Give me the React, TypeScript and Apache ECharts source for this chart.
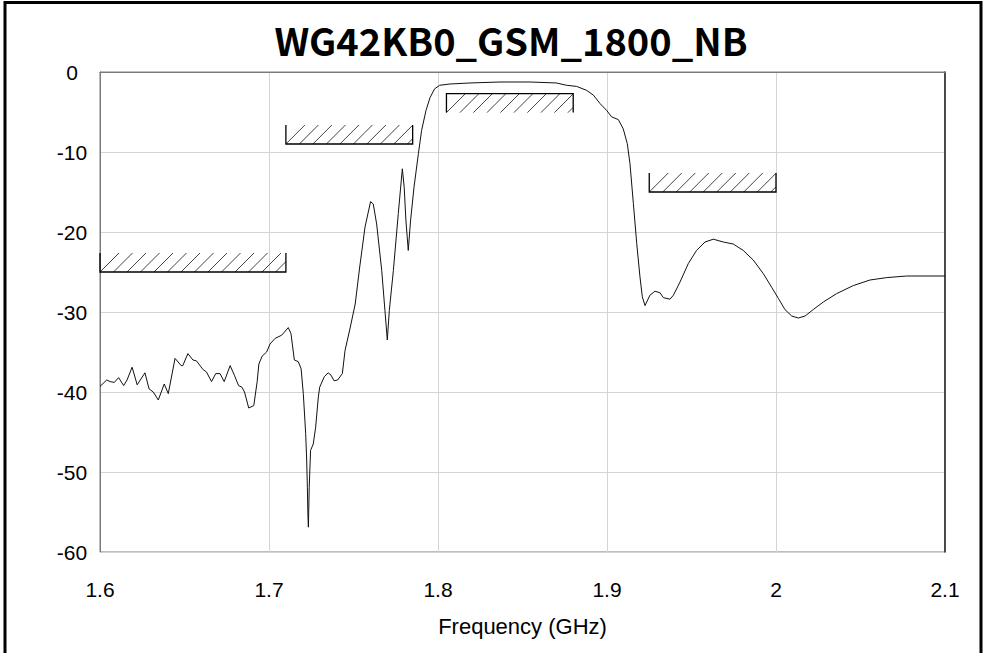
import React, { useEffect, useRef } from "react";
import * as echarts from "echarts";

// ---- Data ----
const freqGHz = [
  1.6, 1.604, 1.606, 1.6085, 1.611, 1.614, 1.616, 1.619, 1.622, 1.6266, 1.629, 1.6315, 1.6345, 1.638,
  1.6404, 1.6444, 1.648, 1.649, 1.652, 1.655, 1.657, 1.661, 1.663, 1.666, 1.6685, 1.671, 1.6735, 1.677,
  1.6795, 1.682, 1.684, 1.6855, 1.688, 1.691, 1.693, 1.694, 1.696, 1.6986, 1.7006, 1.7036, 1.7075,
  1.7114, 1.713, 1.715, 1.7173, 1.719, 1.7203, 1.7217, 1.7223, 1.7227, 1.723, 1.7233, 1.7238, 1.7246,
  1.7262, 1.7276, 1.7292, 1.73, 1.7327, 1.735, 1.7367, 1.7385, 1.7406, 1.7434, 1.745, 1.748, 1.751,
  1.7536, 1.7568, 1.7601, 1.7617, 1.7637, 1.7667, 1.7686, 1.77, 1.7712, 1.7736, 1.7765, 1.7789, 1.78,
  1.781, 1.7824, 1.7838, 1.7858, 1.7884, 1.7903, 1.7929, 1.7953, 1.798, 1.801, 1.807, 1.819, 1.8367,
  1.8544, 1.87, 1.876, 1.882, 1.888, 1.892, 1.8959, 1.8998, 1.9027, 1.9067, 1.9096, 1.912, 1.9136,
  1.9156, 1.9176, 1.9195, 1.9209, 1.9225, 1.9254, 1.9284, 1.9314, 1.9333, 1.9373, 1.9393, 1.9432,
  1.9481, 1.953, 1.958, 1.9629, 1.9688, 1.9747, 1.9806, 1.9865, 1.9925, 1.9974, 2.0014, 2.0053,
  2.0093, 2.0132, 2.0172, 2.022, 2.028, 2.0359, 2.0457, 2.0556, 2.0655, 2.0773, 2.1,
];
const s21dB = [
  -39.3, -38.5, -38.7, -38.8, -38.2, -39.2, -38.5, -36.9, -39.1, -37.6, -39.6, -40.0, -41.0, -39.0,
  -40.2, -35.8, -36.7, -36.7, -35.2, -36.0, -36.1, -37.2, -37.5, -38.7, -37.7, -37.7, -38.7, -36.7,
  -37.9, -39.2, -39.4, -40.0, -42.0, -41.7, -38.7, -36.5, -35.5, -35.0, -34.0, -33.3, -32.9,
  -31.95, -32.7, -36.0, -36.2, -37.1, -40.2, -45.2, -48.5, -51.9, -55.2, -56.9, -51.9, -47.3,
  -46.5, -44.4, -40.6, -39.4, -38.1, -37.6, -37.9, -38.6, -38.5, -37.7, -34.8, -32.0, -29.0,
  -24.5, -19.4, -16.2, -16.5, -19.0, -24.8, -29.8, -33.5, -29.8, -24.8, -17.7, -12.1, -14.4,
  -18.5, -22.3, -18.5, -14.4, -10.2, -7.3, -4.8, -3.2, -2.1, -1.66, -1.5, -1.37, -1.25,
  -1.25, -1.37, -1.66, -1.8, -2.3, -2.9, -3.95, -4.8, -5.6, -5.95, -7.1, -8.95, -11.45,
  -16.45, -21.45, -25.6, -28.1, -29.2, -27.9, -27.4, -27.6, -28.2, -28.4, -27.9, -26.25,
  -23.95, -22.3, -21.25, -20.9, -21.25, -21.5, -22.3, -23.5, -25.2, -26.9, -28.3, -29.7,
  -30.5, -30.75, -30.5, -29.7, -28.75, -27.7, -26.7, -26.0, -25.7, -25.5, -25.5,
];

// Spec masks
const maskStart = [1.6, 1.71, 1.805, 1.925];
const maskEnd = [1.71, 1.785, 1.88, 2.0];
const maskLevel = [-25, -9, -2.7, -15];
const maskSide = [1, 1, -1, 1]; // 1: hatch above the line, -1: hatch below

const xTicks = [1.6, 1.7, 1.8, 1.9, 2.0, 2.1];
const yTicks = [0, -10, -20, -30, -40, -50, -60];

const TITLE = "WG42KB0_GSM_1800_NB";
const X_NAME = "Frequency (GHz)";

const HATCH_PX = 19;
const HATCH_GAP = 13.5;

export default function App() {
  const ref = useRef<HTMLDivElement>(null);
  useEffect(() => {
    if (!ref.current) return;
    const chart = echarts.init(ref.current, null, { renderer: "svg" });
    const lineData = freqGHz.map((f, i) => [f, s21dB[i]]);
    const maskData = maskStart.map((s, i) => [s, maskEnd[i], maskLevel[i], maskSide[i]]);
    const font = "Liberation Sans, Arial, sans-serif";
    chart.setOption({
      animation: false,
      backgroundColor: "#fff",
      grid: {
        left: 100,
        right: 40,
        top: 72,
        bottom: 101,
        show: true,
        borderColor: "#7a7a7a",
        borderWidth: 1,
        containLabel: false,
      },
      xAxis: {
        type: "value",
        min: xTicks[0],
        max: xTicks[xTicks.length - 1],
        interval: 0.1,
        name: X_NAME,
        nameLocation: "middle",
        nameGap: 63,
        nameTextStyle: { color: "#000", fontSize: 22, fontFamily: font },
        axisLine: { show: true, lineStyle: { color: "#7a7a7a", width: 1 } },
        axisTick: { show: false },
        splitLine: { show: true, lineStyle: { color: "#d4d4d4", width: 1 } },
        axisLabel: {
          color: "#000",
          fontSize: 21,
          fontFamily: font,
          margin: 27,
          formatter: (v: number) => String(+v.toFixed(2)),
        },
      },
      yAxis: [
        {
          type: "value",
          min: yTicks[yTicks.length - 1],
          max: yTicks[0],
          interval: 10,
          axisLine: { show: true, lineStyle: { color: "#7a7a7a", width: 1 } },
          axisTick: { show: false },
          splitLine: { show: true, lineStyle: { color: "#d4d4d4", width: 1 } },
          axisLabel: {
            color: "#000",
            fontSize: 21,
            fontFamily: font,
            margin: 28,
            align: "center",
          },
        },
        {
          type: "value",
          position: "right",
          min: yTicks[yTicks.length - 1],
          max: yTicks[0],
          interval: 10,
          axisLine: { show: true, lineStyle: { color: "#222", width: 1.5 } },
          axisTick: { show: false },
          axisLabel: { show: false },
          splitLine: { show: false },
        },
      ],
      graphic: [
        {
          type: "rect",
          shape: { x: 5, y: 2.5, width: 976, height: 720 },
          style: { fill: null, stroke: "#000", lineWidth: 3 },
          silent: true,
        },
        {
          type: "text",
          x: 511,
          y: 39,
          style: {
            text: TITLE,
            fill: "#000",
            font: "bold 38px 'Noto Sans CJK KR', 'Noto Sans', sans-serif",
            textAlign: "center",
            textVerticalAlign: "middle",
          },
        },
      ],
      series: [
        {
          type: "line",
          data: lineData,
          showSymbol: false,
          symbol: "none",
          lineStyle: { color: "#111", width: 1 },
          z: 3,
        },
        {
          type: "custom",
          data: maskData,
          encode: { x: [0, 1], y: 2 },
          z: 4,
          renderItem: (params: any, api: any) => {
            const x1 = api.value(0);
            const x2 = api.value(1);
            const lvl = api.value(2);
            const side = api.value(3);
            const p1 = api.coord([x1, lvl]);
            const p2 = api.coord([x2, lvl]);
            const yLine = p1[1];
            const yOther = yLine - side * HATCH_PX;
            const yt = Math.min(yLine, yOther);
            const yb = Math.max(yLine, yOther);
            const H = yb - yt;
            const L = p1[0];
            const R = p2[0];
            const children: any[] = [];
            for (let bx = L; bx < R - 1; bx += HATCH_GAP) {
              let ex = bx + H;
              let ey = yt;
              if (ex > R) {
                ey = yb - (R - bx);
                ex = R;
              }
              children.push({
                type: "line",
                shape: { x1: bx, y1: yb, x2: ex, y2: ey },
                style: { stroke: "#444", lineWidth: 1 },
              });
            }
            children.push({
              type: "polyline",
              shape: { points: [[L, yOther], [L, yLine], [R, yLine], [R, yOther]] },
              style: { stroke: "#000", lineWidth: 1.3, fill: null },
            });
            return { type: "group", children };
          },
        },
      ],
    });
    return () => chart.dispose();
  }, []);
  return (
    <div style={{ position: "fixed", left: 0, top: 0, width: 985, height: 653, background: "#fff" }}>
      <div ref={ref} style={{ width: 985, height: 653 }} />
    </div>
  );
}
